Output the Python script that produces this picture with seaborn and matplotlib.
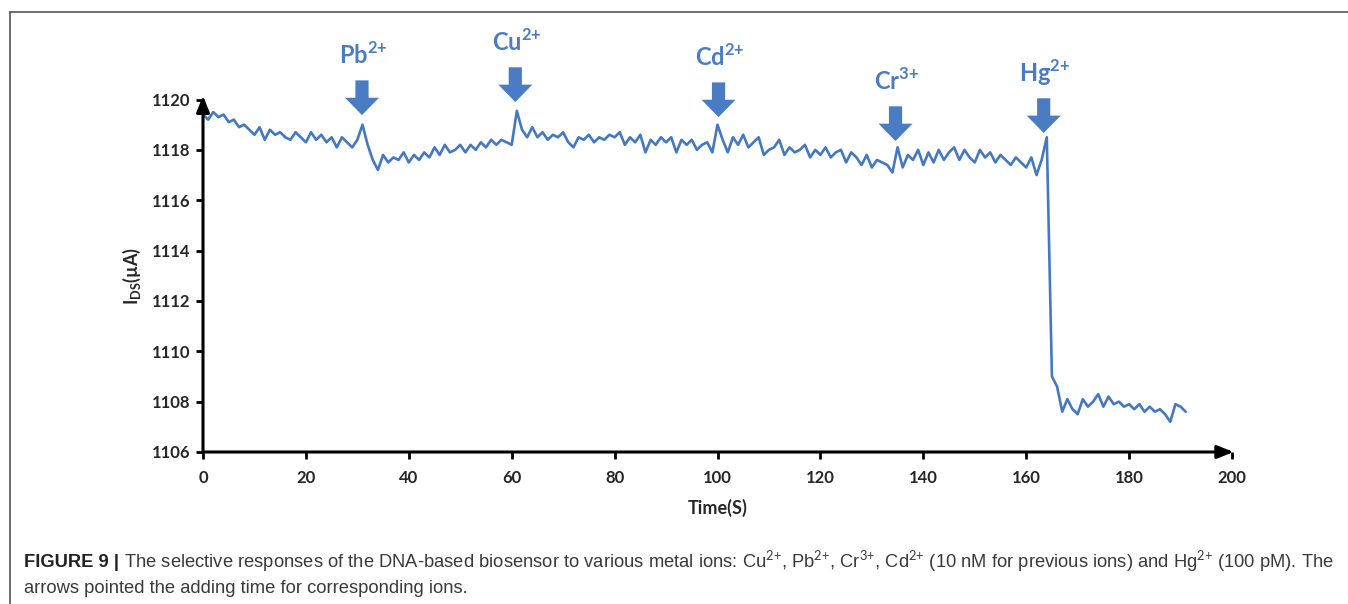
import numpy as np
import pandas as pd
import matplotlib
matplotlib.use('Agg')
import matplotlib.pyplot as plt
from matplotlib.lines import Line2D
import seaborn as sns

# Drain-source current, one value per second (0..191 s)
current_ua = [
    1119.4, 1119.2, 1119.5, 1119.3, 1119.4, 1119.1, 1119.2, 1118.9, 1119.0, 1118.8,
    1118.6, 1118.9, 1118.4, 1118.8, 1118.6, 1118.7, 1118.5, 1118.4, 1118.7, 1118.5,
    1118.3, 1118.7, 1118.4, 1118.6, 1118.3, 1118.5, 1118.1, 1118.5, 1118.3, 1118.1,
    1118.4, 1119.0, 1118.2, 1117.6, 1117.2, 1117.8, 1117.5, 1117.7, 1117.6, 1117.9,
    1117.5, 1117.8, 1117.6, 1117.9, 1117.7, 1118.1, 1117.8, 1118.2, 1117.9, 1118.0,
    1118.2, 1117.9, 1118.2, 1118.0, 1118.3, 1118.1, 1118.4, 1118.2, 1118.4, 1118.3,
    1118.2, 1119.55, 1118.8, 1118.5, 1118.9, 1118.5, 1118.7, 1118.4, 1118.6, 1118.5,
    1118.7, 1118.3, 1118.1, 1118.5, 1118.4, 1118.6, 1118.3, 1118.5, 1118.4, 1118.6,
    1118.5, 1118.7, 1118.2, 1118.5, 1118.3, 1118.6, 1117.9, 1118.4, 1118.2, 1118.5,
    1118.3, 1118.5, 1117.9, 1118.4, 1118.2, 1118.4, 1118.0, 1118.2, 1118.3, 1117.9,
    1119.0, 1118.4, 1117.9, 1118.5, 1118.2, 1118.6, 1118.1, 1118.3, 1118.5, 1117.8,
    1118.0, 1118.1, 1118.4, 1117.8, 1118.1, 1117.9, 1118.0, 1118.2, 1117.7, 1118.0,
    1117.8, 1118.1, 1117.7, 1117.9, 1118.0, 1117.5, 1117.9, 1117.7, 1117.4, 1117.8,
    1117.3, 1117.6, 1117.5, 1117.4, 1117.1, 1118.1, 1117.3, 1117.8, 1117.6, 1118.0,
    1117.4, 1117.9, 1117.5, 1118.0, 1117.6, 1117.9, 1118.1, 1117.6, 1118.0, 1117.7,
    1117.5, 1118.0, 1117.7, 1117.9, 1117.5, 1117.8, 1117.6, 1117.4, 1117.7, 1117.5,
    1117.3, 1117.7, 1117.0, 1117.6, 1118.5, 1109.0, 1108.6, 1107.6, 1108.1, 1107.7,
    1107.5, 1108.1, 1107.8, 1108.0, 1108.3, 1107.8, 1108.2, 1107.9, 1108.0, 1107.8,
    1107.9, 1107.7, 1107.9, 1107.6, 1107.8, 1107.6, 1107.7, 1107.5, 1107.2, 1107.9,
    1107.8, 1107.6,
]
time_s = np.arange(len(current_ua))

# ions and the time they were added
ion_labels = ['Pb', 'Cu', 'Cd', 'Cr', 'Hg']
ion_charges = ['2', '2', '2', '3', '2']
ion_times = [30.9, 60.7, 100.2, 134.6, 163.4]
# level of the arrow tips (annotation placement)
arrow_tips = [1119.38, 1119.9, 1119.3, 1118.35, 1118.67]

x_ticks = [0, 20, 40, 60, 80, 100, 120, 140, 160, 180, 200]
y_ticks = [1106, 1108, 1110, 1112, 1114, 1116, 1118, 1120]

df = pd.DataFrame({'time': time_s, 'current': current_ua})

sns.set_style('white')
plt.rcParams['font.family'] = ['Lato', 'DejaVu Sans']
plt.rcParams['mathtext.fontset'] = 'custom'
plt.rcParams['mathtext.rm'] = 'Lato'
plt.rcParams['mathtext.bf'] = 'Lato:bold'

W, H = 1348, 604
fig = plt.figure(figsize=(W / 100, H / 100), dpi=100)
ax = fig.add_axes([203 / W, 1 - 452 / H, 1029 / W, (452 - 99.5) / H])

line_col = '#4478C2'
arrow_col = '#4A7CC3'

sns.lineplot(data=df, x='time', y='current', ax=ax, color=line_col, lw=1.9)

ax.set_xlim(0, 200)
ax.set_ylim(1106, 1120)
for s in ax.spines.values():
    s.set_visible(False)

# axes drawn as arrows
arrow_axis = dict(arrowstyle='-|>,head_length=0.7,head_width=0.28', lw=2.2,
                  color='black', shrinkA=0, shrinkB=0, mutation_scale=14)
ax.annotate('', xy=(0, 1120.15), xytext=(0, 1106), annotation_clip=False,
            arrowprops=arrow_axis)
ax.annotate('', xy=(200.3, 1106), xytext=(0, 1106), annotation_clip=False,
            arrowprops=arrow_axis)

ax.set_xticks(x_ticks)
ax.set_yticks(y_ticks)
ax.tick_params(axis='both', direction='out', length=5, width=2, color='black',
               labelsize=12, pad=4, bottom=True, left=True)
for lab in ax.get_xticklabels() + ax.get_yticklabels():
    lab.set_fontweight('bold')
ax.tick_params(axis='x', pad=8)

ax.set_xlabel('Time(S)', fontsize=13, fontweight='bold')
ax.xaxis.set_label_coords(0.5, (452 - 508) / 352.5)
ax.xaxis.label.set_va('center')
ax.set_ylabel('I$_{\\mathbf{DS}}$(µA)', fontsize=13, fontweight='bold')
ax.yaxis.set_label_coords((132 - 203) / 1029, 0.5)
ax.yaxis.label.set_va('center')

# ion arrows and labels
for name, chg, t, tip in zip(ion_labels, ion_charges, ion_times, arrow_tips):
    ax.annotate('', xy=(t, tip), xytext=(0, 25), textcoords='offset points',
                annotation_clip=False,
                arrowprops=dict(arrowstyle='simple,head_length=1.25,head_width=2.45,tail_width=0.95',
                                fc=arrow_col, ec='none', shrinkA=0, shrinkB=0,
                                mutation_scale=10))
    ax.annotate(name + '$^{\\mathbf{' + chg + '{+}}}$', xy=(t, tip), xytext=(1, 36.5),
                textcoords='offset points', ha='center', va='baseline',
                fontsize=17, fontweight='bold', color=arrow_col, annotation_clip=False)

# frame lines (top and left)
fig.add_artist(Line2D([10 / W, 1], [1 - 12 / H, 1 - 12 / H], transform=fig.transFigure,
                      color='#555555', lw=1.2))
fig.add_artist(Line2D([10 / W, 10 / W], [0, 1 - 12 / H], transform=fig.transFigure,
                      color='#555555', lw=1.2))

# caption
cap_col = '#3a3a3a'
fs = 12.5
t1 = fig.text(24 / W, 1 - 567 / H, 'FIGURE 9 |', fontsize=fs, fontweight='bold',
              color='#222222', family='Liberation Sans', va='baseline')
rest = (' The selective responses of the DNA-based biosensor to various metal ions: '
        'Cu$^{2{+}}$, Pb$^{2{+}}$, Cr$^{3{+}}$, Cd$^{2{+}}$ (10 nM for previous ions) and '
        'Hg$^{2{+}}$ (100 pM). The')
t2 = fig.text(0, 1 - 567 / H, rest, fontsize=fs, color=cap_col, family='Liberation Sans',
              va='baseline')
t3 = fig.text(24 / W, 1 - 593 / H, 'arrows pointed the adding time for corresponding ions.',
              fontsize=fs, color=cap_col, family='Liberation Sans', va='baseline')

target = 1330 - 24
for _ in range(4):
    fig.canvas.draw()
    r = fig.canvas.get_renderer()
    b1 = t1.get_window_extent(r)
    t2.set_x(b1.x1 / W)
    fig.canvas.draw()
    b2 = t2.get_window_extent(r)
    width = b2.x1 - b1.x0
    fs = fs * target / width
    for t in (t1, t2, t3):
        t.set_fontsize(fs)
    fig.canvas.draw()
    b1 = t1.get_window_extent(fig.canvas.get_renderer())
    t2.set_x(b1.x1 / W)

fig.savefig('out.png', dpi=100)
plt.close(fig)
